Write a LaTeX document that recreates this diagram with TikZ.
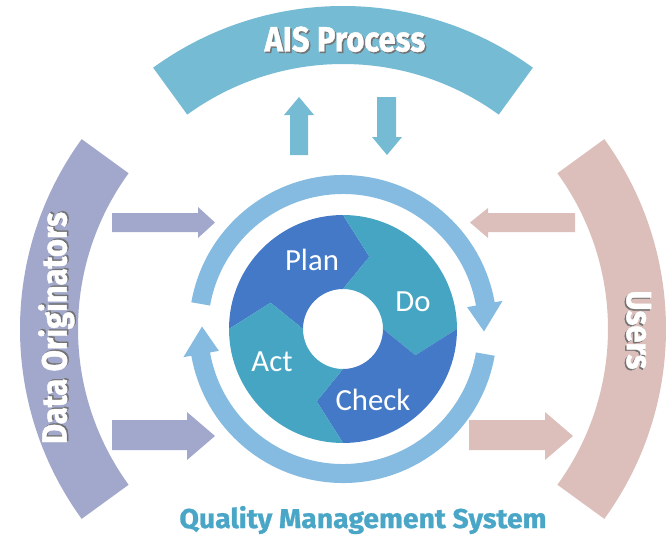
\documentclass[tikz,border=0pt]{standalone}
\usepackage{fontspec}
\setmainfont{Carlito}
\newfontfamily\headfont[FakeStretch=0.88,FakeBold=1.2]{Fira Sans}
\newfontfamily\qmsfont[FakeStretch=1.04,FakeBold=1.0]{Fira Sans}
\definecolor{aiscol}{HTML}{75BBD3}
\definecolor{origcol}{HTML}{A2A8CB}
\definecolor{usercol}{HTML}{DCBFBA}
\definecolor{ringcol}{HTML}{85BBE0}
\definecolor{plancol}{HTML}{4479C7}
\definecolor{docol}{HTML}{47A5C4}
\definecolor{qmscol}{HTML}{4AA6C7}
\newcommand\shadowed[1]{\leavevmode\rlap{\kern0.8pt\raisebox{-0.8pt}{\color{black!55}#1}}#1}
\tikzset{
  bigarc/.style={fill=#1},
  seg/.style={fill=#1},
  ringarrow/.style={fill=ringcol},
  straightarrow/.style={fill=#1},
  headlabel/.style={text=white,font=\headfont\bfseries\fontsize{20}{22}\selectfont,inner sep=0pt},
  cyclelabel/.style={text=white,font=\fontsize{17.5}{20}\selectfont,inner sep=0pt},
}
\begin{document}
\begin{tikzpicture}[x=0.02cm,y=0.02cm]
\useasboundingbox (0,0) rectangle (667,539);
\coordinate (C) at (343,210);
\begin{scope}[shift={(C)}]
  % outer stakeholder arcs
  \fill[bigarc=aiscol] (54:323) arc[start angle=54,end angle=126,radius=323] -- (126:265) arc[start angle=126,end angle=54,radius=265] -- cycle;
  \fill[bigarc=origcol] (144:323) arc[start angle=144,end angle=216,radius=323] -- (216:265) arc[start angle=216,end angle=144,radius=265] -- cycle;
  \fill[bigarc=usercol] (-36:323) arc[start angle=-36,end angle=36,radius=323] -- (36:265) arc[start angle=36,end angle=-36,radius=265] -- cycle;
  % ring arrows
  \fill[ringarrow] (170:154) arc[start angle=170,end angle=10,radius=154] -- (10:162) -- (-1:141) -- (10:126) -- (10:135) arc[start angle=10,end angle=170,radius=135] -- cycle;
  \fill[ringarrow] (-10:154) arc[start angle=-10,end angle=-170,radius=154] -- (-170:162) -- (-181:141) -- (-170:126) -- (-170:135) arc[start angle=-170,end angle=-10,radius=135] -- cycle;
  % PDCA segments
  \fill[seg=plancol] (180:114) arc[start angle=180,end angle=90,radius=114] -- (70:77) -- (90:40) arc[start angle=90,end angle=180,radius=40] -- (160:77) -- cycle;
  \fill[seg=docol] (90:114) arc[start angle=90,end angle=0,radius=114] -- (-20:77) -- (0:40) arc[start angle=0,end angle=90,radius=40] -- (70:77) -- cycle;
  \fill[seg=plancol] (0:114) arc[start angle=0,end angle=-90,radius=114] -- (-110:77) -- (-90:40) arc[start angle=-90,end angle=0,radius=40] -- (-20:77) -- cycle;
  \fill[seg=docol] (-90:114) arc[start angle=-90,end angle=-180,radius=114] -- (-200:77) -- (-180:40) arc[start angle=-180,end angle=-90,radius=40] -- (-110:77) -- cycle;
  \node[cyclelabel] (plan) at (-31,69) {Plan};
  \node[cyclelabel] (do) at (70,27) {Do};
  \node[cyclelabel] (act) at (-71,-33) {Act};
  \node[cyclelabel] (check) at (30,-71) {Check};
\end{scope}
% straight arrows
\fill[straightarrow=aiscol] (290,384) -- (290,424) -- (284,424) -- (299,442) -- (314,424) -- (308,424) -- (308,384) -- cycle;
\fill[straightarrow=aiscol] (377,442) -- (396,442) -- (396,402) -- (402,402) -- (387,384) -- (372,402) -- (377,402) -- cycle;
\fill[straightarrow=origcol] (112,326) -- (198,326) -- (198,332) -- (215,316.5) -- (198,301) -- (198,307) -- (112,307) -- cycle;
\fill[straightarrow=origcol] (112,119) -- (187,119) -- (187,127) -- (215,103) -- (187,79) -- (187,89) -- (112,89) -- cycle;
\fill[straightarrow=usercol] (575,326) -- (488,326) -- (488,331) -- (470,316.5) -- (488,301) -- (488,307) -- (575,307) -- cycle;
\fill[straightarrow=usercol] (469,119) -- (545,119) -- (545,127) -- (573,103) -- (545,79) -- (545,89) -- (469,89) -- cycle;
% labels
\node[headlabel] (ais) at (345,499) {\shadowed{AIS Process}};
\node[headlabel,rotate=90] (orig) at (57,211) {\shadowed{Data Originators}};
\node[headlabel,rotate=-90] (users) at (638,209) {\shadowed{Users}};
\node[text=qmscol,font=\qmsfont\bfseries\fontsize{15.5}{18}\selectfont,inner sep=0pt] (qms) at (363,19) {Quality Management System};
\end{tikzpicture}
\end{document}
